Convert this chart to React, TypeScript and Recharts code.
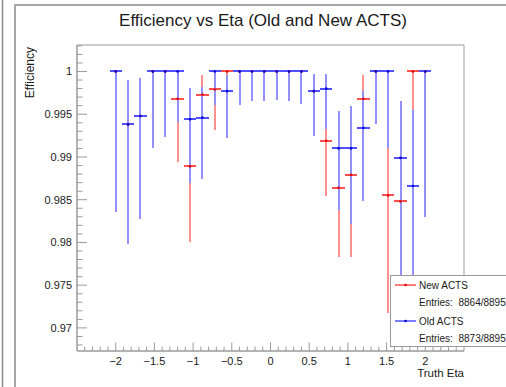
import { ScatterChart, Scatter, XAxis, YAxis, ErrorBar, ReferenceArea } from 'recharts'

// bin centres in truth eta (bin width 0.16)
const etaBins = [
  -2, -1.84, -1.68, -1.52, -1.36, -1.2, -1.04, -0.88, -0.72, -0.56, -0.4, -0.24, -0.08,
  0.08, 0.24, 0.4, 0.56, 0.72, 0.88, 1.04, 1.2, 1.36, 1.52, 1.68, 1.84, 2,
]
const BIN_HALF = 0.08

// Old ACTS
const oldEff = [
  1, 0.9938, 0.9948, 1, 1, 1, 0.9944, 0.9946, 1, 0.9977, 1, 1, 1,
  1, 1, 1, 0.9977, 0.998, 0.991, 0.991, 0.9934, 1, 1, 0.9899, 0.9866, 1,
]
const oldLow = [
  0.9836, 0.9798, 0.9828, 0.991, 0.9923, 0.9941, 0.987, 0.9874, 0.9961, 0.9922, 0.9961, 0.9965, 0.9965,
  0.9967, 0.9965, 0.9962, 0.9924, 0.9933, 0.9838, 0.9822, 0.9849, 0.9938, 0.991, 0.9745, 0.9746, 0.983,
]
const oldHigh = [
  1, 0.999, 0.9992, 1, 1, 1, 0.9981, 0.9982, 1, 0.9996, 1, 1, 1,
  1, 1, 1, 0.9997, 0.9997, 0.9954, 0.996, 0.9977, 1, 1, 0.9965, 0.9955, 1,
]

// New ACTS
const newEff = [
  1, 0.9938, 0.9948, 1, 1, 0.9968, 0.9889, 0.9973, 0.9979, 1, 1, 1, 1,
  1, 1, 1, 0.9977, 0.9919, 0.9864, 0.9879, 0.9968, 1, 0.9855, 0.9848, 1, 1,
]
const newLow = [
  0.9836, 0.9798, 0.9828, 0.991, 0.9923, 0.9894, 0.9801, 0.9911, 0.9931, 0.9957, 0.9961, 0.9965, 0.9965,
  0.9967, 0.9965, 0.9962, 0.9924, 0.9854, 0.9783, 0.9783, 0.9893, 0.9938, 0.9717, 0.972, 0.9878, 0.983,
]
const newHigh = [
  1, 0.999, 0.9992, 1, 1, 0.9996, 0.9952, 0.9996, 0.9996, 1, 1, 1, 1,
  1, 1, 1, 0.9997, 0.9958, 0.9918, 0.9937, 0.9996, 1, 0.9934, 0.9931, 1, 1,
]

const xMajor = [-2, -1.5, -1, -0.5, 0, 0.5, 1, 1.5, 2]
const xMajorLabels = ['\u22122', '\u22121.5', '\u22121', '\u22120.5', '0', '0.5', '1', '1.5', '2']
const yMajor = [0.97, 0.975, 0.98, 0.985, 0.99, 0.995, 1]
const yMajorLabels = ['0.97', '0.975', '0.98', '0.985', '0.99', '0.995', '1']

const X_MIN = -2.5
const X_MAX = 2.5
const Y_MIN = 0.9673
const Y_MAX = 1.0031

const PLOT_LEFT = 77
const PLOT_TOP = 45
const PLOT_RIGHT = 464
const PLOT_BOTTOM = 351

const FRAME = '#9a9a9a'
const TEXT = '#1a1a1a'
const FONT = '"Liberation Sans", Arial, Helvetica, sans-serif'

const RED_BAR = '#ff9090'
const RED_CAP = '#ff5050'
const RED_DOT = '#e00000'
const BLUE_BAR = '#9090ff'
const BLUE_CAP = '#5050ff'
const BLUE_DOT = '#0000d0'

// minor ticks every 0.1 in eta and 0.001 in efficiency
const xTicks: number[] = []
for (let k = -24; k <= 24; k++) xTicks.push(k / 10)
const yTicks: number[] = []
for (let k = 968; k <= 1003; k++) yTicks.push(k / 1000)

function rows(eff: number[], lo: number[], hi: number[]) {
  return etaBins.map((eta, i) => ({
    eta,
    eff: eff[i],
    ex: [BIN_HALF, BIN_HALF],
    ey: [eff[i] - lo[i], hi[i] - eff[i]],
  }))
}

const newRows = rows(newEff, newLow, newHigh)
const oldRows = rows(oldEff, oldLow, oldHigh)

function majorIndex(list: number[], v: number) {
  return list.findIndex(m => Math.abs(m - v) < 1e-7)
}

function XTick(props: any) {
  const { x, payload } = props
  const idx = majorIndex(xMajor, payload.value)
  const len = idx >= 0 ? 8.5 : 4.3
  return (
    <g>
      <line x1={x} x2={x} y1={PLOT_BOTTOM} y2={PLOT_BOTTOM - len} stroke={FRAME} strokeWidth={1} />
      {idx >= 0 && (
        <text x={x} y={361} textAnchor="middle" dominantBaseline="central" fontSize={11} fill={TEXT} fontFamily={FONT}>
          {xMajorLabels[idx]}
        </text>
      )}
    </g>
  )
}

function YTick(props: any) {
  const { y, payload } = props
  const idx = majorIndex(yMajor, payload.value)
  const len = idx >= 0 ? 10 : 5.5
  return (
    <g>
      <line x1={PLOT_LEFT} x2={PLOT_LEFT + len} y1={y} y2={y} stroke={FRAME} strokeWidth={1} />
      {idx >= 0 && (
        <text x={72} y={y} textAnchor="end" dominantBaseline="central" fontSize={11} fill={TEXT} fontFamily={FONT}>
          {yMajorLabels[idx]}
        </text>
      )}
    </g>
  )
}

const dot = (color: string) => (p: any) => <circle cx={p.cx} cy={p.cy} r={1.3} fill={color} />

function LegendRow({ bar, color, label }: { bar: string; color: string; label: string }) {
  return (
    <div style={{ display: 'flex', alignItems: 'center', height: 18 }}>
      <svg width={28} height={6} style={{ flex: 'none' }}>
        <line x1={4} x2={25} y1={3} y2={3} stroke={bar} strokeWidth={1.5} />
        <circle cx={14.5} cy={3} r={1.3} fill={color} />
      </svg>
      <span>{label}</span>
    </div>
  )
}

export default function App() {
  return (
    <div style={{ position: 'absolute', left: 0, top: 0, width: 506, height: 387, overflow: 'hidden', background: '#fff' }}>
      <ScatterChart width={506} height={387} margin={{ top: PLOT_TOP, right: 506 - PLOT_RIGHT, bottom: 0, left: 0 }}>
        <XAxis
          type="number"
          dataKey="eta"
          domain={[X_MIN, X_MAX]}
          ticks={xTicks}
          interval={0}
          tick={<XTick />}
          tickLine={false}
          axisLine={{ stroke: FRAME }}
          height={387 - PLOT_BOTTOM}
          allowDataOverflow
        />
        <YAxis
          type="number"
          dataKey="eff"
          domain={[Y_MIN, Y_MAX]}
          ticks={yTicks}
          interval={0}
          tick={<YTick />}
          tickLine={false}
          axisLine={{ stroke: FRAME }}
          width={PLOT_LEFT}
          allowDataOverflow
        />
        <ReferenceArea x1={X_MIN} x2={X_MAX} y1={Y_MIN} y2={Y_MAX} fill="none" stroke={FRAME} strokeWidth={1} />
        <Scatter name="New ACTS" data={newRows} shape={dot(RED_DOT)} isAnimationActive={false}>
          <ErrorBar dataKey="ey" direction="y" width={0} stroke={RED_BAR} strokeWidth={2} shapeRendering="crispEdges" />
          <ErrorBar dataKey="ex" direction="x" width={0} stroke={RED_CAP} strokeWidth={2} shapeRendering="crispEdges" />
        </Scatter>
        <Scatter name="Old ACTS" data={oldRows} shape={dot(BLUE_DOT)} isAnimationActive={false}>
          <ErrorBar dataKey="ey" direction="y" width={0} stroke={BLUE_BAR} strokeWidth={2} shapeRendering="crispEdges" />
          <ErrorBar dataKey="ex" direction="x" width={0} stroke={BLUE_CAP} strokeWidth={2} shapeRendering="crispEdges" />
        </Scatter>
      </ScatterChart>

      <svg width={506} height={387} style={{ position: 'absolute', left: 0, top: 0, pointerEvents: 'none' }}>
        <line x1={2.5} x2={2.5} y1={0} y2={387} stroke="#8a8a8a" strokeWidth={1.5} />
        <polyline points="15,387 15,5 506,5" fill="none" stroke="#8a8a8a" strokeWidth={1.5} />
        <text x={263} y={20} textAnchor="middle" dominantBaseline="central" fontSize={17} fill={TEXT} fontFamily={FONT}>
          Efficiency vs Eta (Old and New ACTS)
        </text>
        <text
          x={30}
          y={47}
          textAnchor="end"
          dominantBaseline="central"
          fontSize={12}
          fill={TEXT}
          fontFamily={FONT}
          transform="rotate(-90, 30, 47)"
        >
          Efficiency
        </text>
        <text x={464} y={373} textAnchor="end" dominantBaseline="central" fontSize={11.5} fill={TEXT} fontFamily={FONT}>
          Truth Eta
        </text>
      </svg>

      <div
        style={{
          position: 'absolute',
          left: 390,
          top: 275,
          width: 140,
          height: 72,
          border: `1px solid ${FRAME}`,
          background: '#fff',
          fontFamily: FONT,
          fontSize: 10,
          color: TEXT,
          boxSizing: 'border-box',
        }}
      >
        <LegendRow bar={RED_CAP} color={RED_DOT} label="New ACTS" />
        <div style={{ height: 18, lineHeight: '18px', paddingLeft: 28 }}>Entries:&nbsp; 8864/8895</div>
        <LegendRow bar={BLUE_CAP} color={BLUE_DOT} label="Old ACTS" />
        <div style={{ height: 18, lineHeight: '18px', paddingLeft: 28 }}>Entries:&nbsp; 8873/8895</div>
      </div>
    </div>
  )
}
